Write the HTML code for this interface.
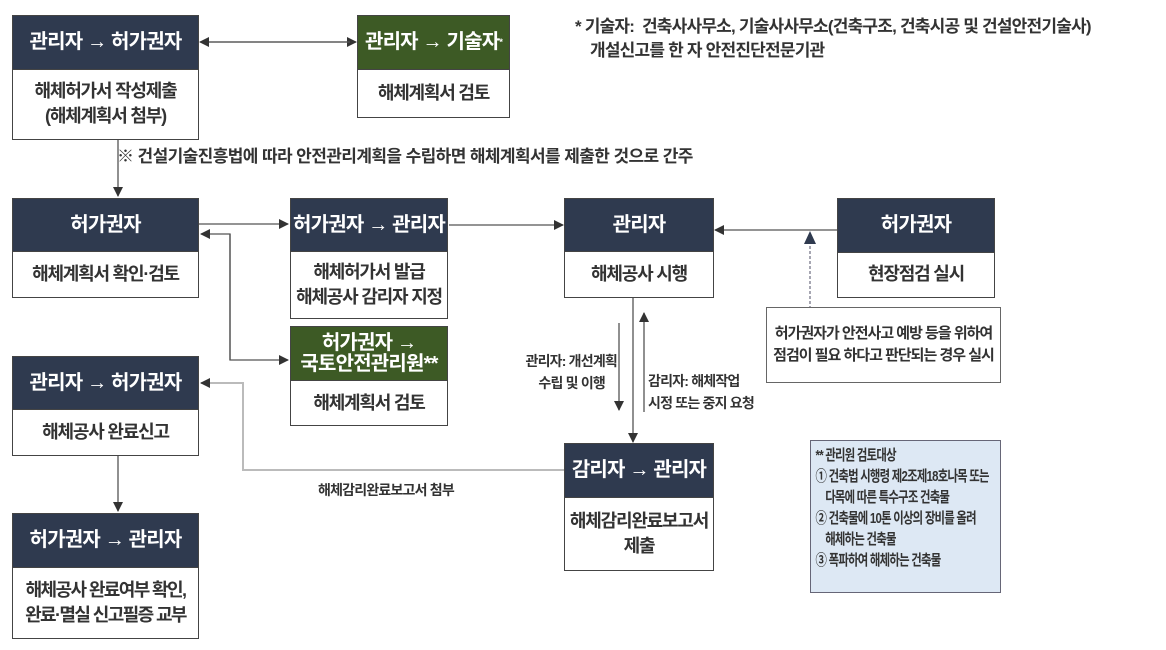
<!DOCTYPE html>
<html><head><meta charset="utf-8"><style>
body{margin:0;width:1166px;height:650px;background:#fff;position:relative;overflow:hidden;font-family:"Liberation Sans","Noto Sans CJK KR",sans-serif;}
.b{position:absolute;border:1.5px solid #444;box-sizing:border-box;background:#fff;}
.h{background:#2f3a4f;color:#fff;font-size:20px;font-weight:bold;display:flex;align-items:center;justify-content:center;text-align:center;line-height:23px;letter-spacing:-0.8px;border-bottom:1.5px solid #444;box-sizing:border-box;white-space:nowrap}
.g{background:#3d5a25}
.t{color:#333;font-size:18px;font-weight:bold;display:flex;align-items:center;justify-content:center;text-align:center;line-height:25px;letter-spacing:-1.2px;box-sizing:border-box;white-space:nowrap}
.lbl{position:absolute;color:#333;font-size:14px;font-weight:bold;letter-spacing:-0.8px;line-height:20px;white-space:nowrap}
svg{position:absolute;left:0;top:0}
</style></head><body>
<svg width="1166" height="650">
<defs><marker id="a" markerWidth="10" markerHeight="10" refX="9" refY="5" orient="auto" markerUnits="userSpaceOnUse"><path d="M0,0 L10,5 L0,10 z" fill="#333"/></marker></defs>
<g stroke="#555" stroke-width="1.3" fill="none">
<line x1="208" y1="42" x2="356" y2="42" marker-end="url(#a)"/>
<line x1="350" y1="42" x2="200" y2="42" marker-end="url(#a)"/>
<line x1="118" y1="140" x2="118" y2="196" marker-end="url(#a)"/>
<line x1="199" y1="224" x2="288" y2="224" marker-end="url(#a)"/>
<polyline points="230,360 230,234 201,234" marker-end="url(#a)"/>
<polyline points="230,234 230,360 288,360" marker-end="url(#a)"/>
<line x1="449" y1="225" x2="563" y2="225" marker-end="url(#a)"/>
<line x1="837" y1="230" x2="715" y2="230" marker-end="url(#a)"/>
<polyline points="766,345 810,345 810,234" stroke-dasharray="3,2" stroke="#778"/>
<path d="M804,244 L810,231 L816,244 z" fill="#2f3a4f" stroke="none"/>
<line x1="633" y1="298" x2="633" y2="442" marker-end="url(#a)"/>
<line x1="619" y1="323" x2="619" y2="410" marker-end="url(#a)"/>
<line x1="644" y1="412" x2="644" y2="313" marker-end="url(#a)"/>
<polyline points="564,470 243,470 243,383 201,383" stroke="#bbb" stroke-width="2"/>
<path d="M200,383 L210,378 L210,388 z" fill="#333" stroke="none"/>
<line x1="118" y1="455" x2="118" y2="511" marker-end="url(#a)"/>
</g></svg>

<div class="b" style="left:12px;top:15px;width:187px;height:125px"><div class="h" style="height:54px">관리자 → 허가권자</div><div class="t" style="height:68px">해체허가서 작성제출<br>(해체계획서 첨부)</div></div>
<div class="b" style="left:357px;top:15px;width:153px;height:103px"><div class="h g" style="height:54px">관리자 → 기술자<sup style="font-size:9px">*</sup></div><div class="t" style="height:46px">해체계획서 검토</div></div>
<div class="lbl" style="left:575px;top:17px;font-size:17px;letter-spacing:-0.8px">* 기술자:&nbsp; 건축사사무소, 기술사사무소(건축구조, 건축시공 및 건설안전기술사)</div>
<div class="lbl" style="left:590px;top:41px;font-size:17px;letter-spacing:-0.8px">개설신고를 한 자 안전진단전문기관</div>
<div class="lbl" style="left:117px;top:147px;font-size:17px;letter-spacing:-0.6px">※ 건설기술진흥법에 따라 안전관리계획을 수립하면 해체계획서를 제출한 것으로 간주</div>

<div class="b" style="left:12px;top:198px;width:187px;height:100px"><div class="h" style="height:53px">허가권자</div><div class="t" style="height:44px">해체계획서 확인·검토</div></div>
<div class="b" style="left:290px;top:198px;width:158px;height:121px"><div class="h" style="height:53px">허가권자 → 관리자</div><div class="t" style="height:65px">해체허가서 발급<br>해체공사 감리자 지정</div></div>
<div class="b" style="left:290px;top:326px;width:158px;height:100px"><div class="h g" style="height:54px;line-height:21px">허가권자 →<br>국토안전관리원**</div><div class="t" style="height:44px">해체계획서 검토</div></div>
<div class="b" style="left:564px;top:198px;width:150px;height:100px"><div class="h" style="height:53px">관리자</div><div class="t" style="height:44px">해체공사 시행</div></div>
<div class="b" style="left:837px;top:198px;width:158px;height:100px"><div class="h" style="height:54px">허가권자</div><div class="t" style="height:43px">현장점검 실시</div></div>
<div class="b" style="left:766px;top:307px;width:235px;height:76px;border-color:#666"><div class="t" style="height:73px;font-size:15px;line-height:22px;letter-spacing:-1px">허가권자가 안전사고 예방 등을 위하여<br>점검이 필요 하다고 판단되는 경우 실시</div></div>
<div class="lbl" style="left:523px;top:350px;text-align:right;width:94px;line-height:22px">관리자: 개선계획<br><span style="padding-right:12px">수립 및 이행</span></div>
<div class="lbl" style="left:648px;top:370px;line-height:22px">감리자: 해체작업<br>시정 또는 중지 요청</div>

<div class="b" style="left:12px;top:356px;width:187px;height:100px"><div class="h" style="height:53px">관리자 → 허가권자</div><div class="t" style="height:44px">해체공사 완료신고</div></div>
<div class="b" style="left:564px;top:443px;width:150px;height:128px"><div class="h" style="height:54px">감리자 → 관리자</div><div class="t" style="height:71px">해체감리완료보고서<br>제출</div></div>
<div class="lbl" style="left:318px;top:480px">해체감리완료보고서 첨부</div>
<div class="b" style="left:12px;top:513px;width:187px;height:126px"><div class="h" style="height:54px">허가권자 → 관리자</div><div class="t" style="height:69px;letter-spacing:-1.6px">해체공사 완료여부 확인,<br>완료·멸실 신고필증 교부</div></div>

<div class="b" style="left:810px;top:440px;width:191px;height:153px;background:#dde8f4;border-color:#667"><div style="padding:4px 0 0 6px;font-size:15px;font-weight:bold;color:#333;line-height:21px;letter-spacing:-1px;white-space:nowrap;transform:scaleX(0.76);transform-origin:left top">** 관리원 검토대상<br>① 건축법 시행령 제2조제18호나목 또는<br>&nbsp;&nbsp;&nbsp;&nbsp;다목에 따른 특수구조 건축물<br>② 건축물에 10톤 이상의 장비를 올려<br>&nbsp;&nbsp;&nbsp;&nbsp;해체하는 건축물<br>③ 폭파하여 해체하는 건축물</div></div>
</body></html>
